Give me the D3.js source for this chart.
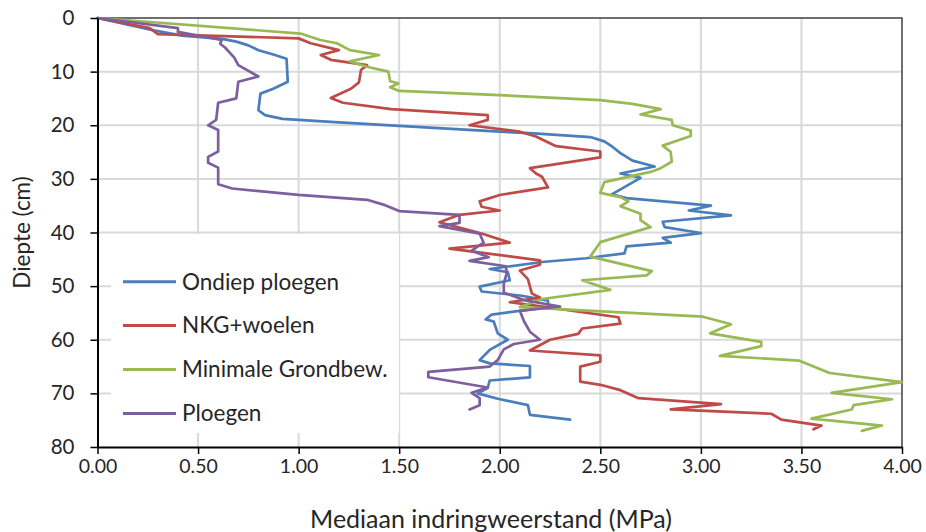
<!DOCTYPE html>
<html>
<head>
<meta charset="utf-8">
<script src="https://cdn.jsdelivr.net/npm/d3@7"></script>
<style>
  html, body { margin: 0; padding: 0; background: #fff; }
  svg { display: block; }
  text { font-family: Lato, "Open Sans", sans-serif; fill: #262626; }
</style>
</head>
<body>
<svg id="chart" width="926" height="532"></svg>
<script>
// Median penetration resistance (MPa) per depth (cm) for four tillage systems
const seriesNames = ["Ondiep ploegen", "NKG+woelen", "Minimale Grondbew.", "Ploegen"];
const seriesColors = ["#4A7EBB", "#BE4B48", "#98B954", "#7D5FA0"];

const ondiepDepth = [0, 2.3, 3.3, 3.9, 4.4, 5.1, 6, 6.7, 7.6, 11.9, 13.2, 14.1, 17.2, 18.1, 18.8, 19.4, 20.1, 21.2, 21.5, 22.2, 23, 24, 25.2, 26.6, 27.7, 29, 29.8, 32.9, 33.6, 35, 35.9, 36.8, 38, 39, 40.1, 41, 41.9, 42.6, 43.9, 44.8, 45.5, 46.8, 47.4, 48.9, 50.1, 51, 51.8, 52.7, 53.9, 55.3, 56.2, 56.6, 58.8, 60, 61.9, 63.8, 64.4, 64.9, 67, 67.6, 69, 70, 71, 72.2, 74, 74.9];
const ondiepMPa   = [0, 0.28, 0.42, 0.62, 0.69, 0.75, 0.80, 0.866, 0.94, 0.946, 0.874, 0.81, 0.80, 0.833, 0.92, 1.18, 1.50, 2.0, 2.17, 2.45, 2.52, 2.56, 2.60, 2.66, 2.77, 2.60, 2.70, 2.557, 2.63, 3.05, 2.94, 3.15, 2.81, 2.82, 3.0, 2.81, 2.85, 2.63, 2.62, 2.43, 2.21, 1.95, 2.04, 2.05, 1.90, 1.91, 2.11, 2.24, 2.24, 1.96, 1.93, 1.97, 1.99, 2.04, 1.95, 1.90, 1.95, 2.15, 2.15, 1.95, 1.94, 1.89, 1.99, 2.14, 2.15, 2.35];

const nkgDepth = [0, 1.9, 3, 3.8, 4.7, 6, 6.9, 7.8, 8.8, 9.7, 12, 13.2, 14.9, 15.8, 17, 18.1, 19, 20, 21.2, 22.1, 23.9, 24.9, 26, 28, 29, 29.6, 31.6, 33, 34.2, 35.2, 35.9, 36.7, 38.1, 40.2, 41.9, 43, 45.2, 46, 47.1, 48.7, 51.4, 52.1, 53, 54, 55.8, 57, 57.9, 58.9, 60, 62, 62.9, 64.1, 65, 67.8, 68.4, 69.4, 70.9, 72, 73, 73.8, 74.9, 76, 76.7];
const nkgMPa   = [0, 0.26, 0.30, 1.0, 1.06, 1.2, 1.11, 1.16, 1.34, 1.31, 1.30, 1.26, 1.16, 1.22, 1.46, 1.94, 1.94, 1.85, 2.1, 2.18, 2.28, 2.5, 2.5, 2.15, 2.18, 2.21, 2.24, 2.0, 1.9, 1.91, 2.0, 1.80, 1.70, 1.91, 2.05, 1.75, 2.2, 2.2, 2.1, 2.14, 2.16, 2.2, 2.05, 2.25, 2.59, 2.6, 2.41, 2.39, 2.25, 2.15, 2.5, 2.5, 2.4, 2.4, 2.5, 2.6, 2.69, 3.1, 2.85, 3.35, 3.4, 3.6, 3.56];

const minimaalDepth = [0, 2.9, 4.1, 4.7, 6, 6.9, 8.1, 9.1, 10, 11.8, 12.2, 12.9, 13.6, 14.4, 15.3, 16, 17, 18, 19, 20, 21, 22, 23.8, 25, 26.8, 28, 28.7, 30.6, 32.6, 33.4, 34.2, 35.1, 36.5, 37.7, 39, 41.8, 44.5, 47.2, 48, 48.9, 50.7, 52.4, 53.9, 55.7, 57.1, 58.8, 60.4, 61.2, 63, 63.9, 66.2, 67.9, 69.9, 71.1, 72.2, 73, 74.7, 76, 77];
const minimaalMPa   = [0, 1.01, 1.107, 1.19, 1.255, 1.40, 1.255, 1.34, 1.446, 1.455, 1.496, 1.455, 1.5, 2.0, 2.5, 2.66, 2.8, 2.70, 2.855, 2.86, 2.95, 2.95, 2.81, 2.85, 2.855, 2.80, 2.75, 2.52, 2.5, 2.6, 2.64, 2.6, 2.70, 2.70, 2.75, 2.5, 2.45, 2.756, 2.73, 2.41, 2.55, 2.21, 2.1, 3.01, 3.15, 3.046, 3.30, 3.30, 3.095, 3.49, 3.64, 4.0, 3.65, 3.95, 3.76, 3.75, 3.55, 3.90, 3.80];

const ploegenDepth = [0, 1.9, 2.6, 4.1, 4.8, 5.5, 7.4, 8.8, 10.9, 11.9, 15, 15.8, 19, 20, 20.9, 24.9, 25.9, 27, 27.9, 31, 31.8, 33, 33.9, 34.9, 36, 36.7, 38.2, 38.8, 40.2, 41.9, 43.4, 44.6, 45.3, 46.3, 47.6, 49.5, 51.2, 52.6, 53.8, 54.6, 56.5, 58.5, 60, 60.8, 61.8, 63.8, 65, 66, 67, 68.9, 69.9, 70.9, 72.2, 73];
const ploegenMPa   = [0, 0.40, 0.40, 0.617, 0.61, 0.634, 0.68, 0.70, 0.80, 0.70, 0.69, 0.60, 0.59, 0.55, 0.60, 0.60, 0.55, 0.55, 0.60, 0.60, 0.67, 1.0, 1.34, 1.43, 1.50, 1.80, 1.80, 1.70, 1.90, 1.92, 1.86, 1.945, 1.85, 2.03, 2.035, 2.02, 2.02, 2.12, 2.30, 2.10, 2.12, 2.15, 2.2, 2.07, 2.02, 1.99, 1.95, 1.645, 1.645, 1.94, 1.86, 1.90, 1.90, 1.85];

const depthTicks = [0, 10, 20, 30, 40, 50, 60, 70, 80];
const mpaTicks = [0, 0.5, 1, 1.5, 2, 2.5, 3, 3.5, 4];

const depthArrays = [ondiepDepth, nkgDepth, minimaalDepth, ploegenDepth];
const mpaArrays = [ondiepMPa, nkgMPa, minimaalMPa, ploegenMPa];

const svg = d3.select("#chart");

const x = d3.scaleLinear().domain([0, 4]).range([97.5, 902]);
const y = d3.scaleLinear().domain([0, 80]).range([18, 447]);

// gridlines
const grid = svg.append("g").attr("stroke", "#D9D9D9").attr("stroke-width", 2);
grid.selectAll("line.v").data(mpaTicks.slice(1, -1)).join("line")
  .attr("x1", d => x(d)).attr("x2", d => x(d))
  .attr("y1", y(0)).attr("y2", y(80));
grid.selectAll("line.h").data(depthTicks.slice(1, -1)).join("line")
  .attr("x1", x(0)).attr("x2", x(4))
  .attr("y1", d => y(d)).attr("y2", d => y(d));

// plot frame (top and right)
svg.append("path")
  .attr("d", `M${x(0)},${y(0)}H${x(4)}V${y(80)}`)
  .attr("fill", "none").attr("stroke", "#404040").attr("stroke-width", 1.5);

// legend background masks the gridlines behind it
const legend = svg.append("g");
legend.append("rect")
  .attr("x", 111).attr("y", 234).attr("width", 288).attr("height", 199)
  .attr("fill", "#fff");

// series lines
const line = d3.line().x(d => x(d[1])).y(d => y(d[0]));
const plot = svg.append("g");
seriesNames.forEach((name, i) => {
  const pts = d3.zip(depthArrays[i], mpaArrays[i]);
  plot.append("path")
    .datum(pts)
    .attr("d", line)
    .attr("fill", "none")
    .attr("stroke", seriesColors[i])
    .attr("stroke-width", 2.7)
    .attr("stroke-linejoin", "round")
    .attr("stroke-linecap", "round");
});

// legend entries
const rows = legend.selectAll("g.item").data(seriesNames).join("g")
  .attr("transform", (d, i) => `translate(0, ${281.7 + i * 43.9})`);
rows.append("line")
  .attr("x1", 123).attr("x2", 176)
  .attr("stroke", (d, i) => seriesColors[i])
  .attr("stroke-width", 3);
rows.append("text")
  .attr("x", 182).attr("dy", "0.35em")
  .attr("font-size", 22.5)
  .text(d => d);

// axes
const yAxis = svg.append("g")
  .attr("transform", `translate(${x(0)},0)`)
  .call(d3.axisLeft(y).tickValues(depthTicks).tickSize(7).tickPadding(16).tickSizeOuter(0));
const xAxis = svg.append("g")
  .attr("transform", `translate(0,${y(80)})`)
  .call(d3.axisBottom(x).tickValues(mpaTicks).tickFormat(d3.format(".2f")).tickSize(7).tickPadding(5).tickSizeOuter(0));

[yAxis, xAxis].forEach(a => {
  a.select(".domain").attr("stroke", "#000").attr("stroke-width", 2);
  a.selectAll(".tick line").attr("stroke", "#000").attr("stroke-width", 1.5);
  a.selectAll(".tick text").attr("fill", "#262626").attr("font-family", "Lato, 'Open Sans', sans-serif");
});
yAxis.selectAll(".tick text").attr("font-size", 20.5);
xAxis.selectAll(".tick text").attr("font-size", 19.5);

// axis titles
svg.append("text")
  .attr("transform", `translate(22, ${(y(0) + y(80)) / 2}) rotate(-90)`)
  .attr("text-anchor", "middle").attr("dy", "0.35em")
  .attr("font-size", 22.5)
  .text("Diepte (cm)");
svg.append("text")
  .attr("x", 491).attr("y", 519)
  .attr("text-anchor", "middle").attr("dy", "0.35em")
  .attr("font-size", 25)
  .text("Mediaan indringweerstand (MPa)");
</script>
</body>
</html>
